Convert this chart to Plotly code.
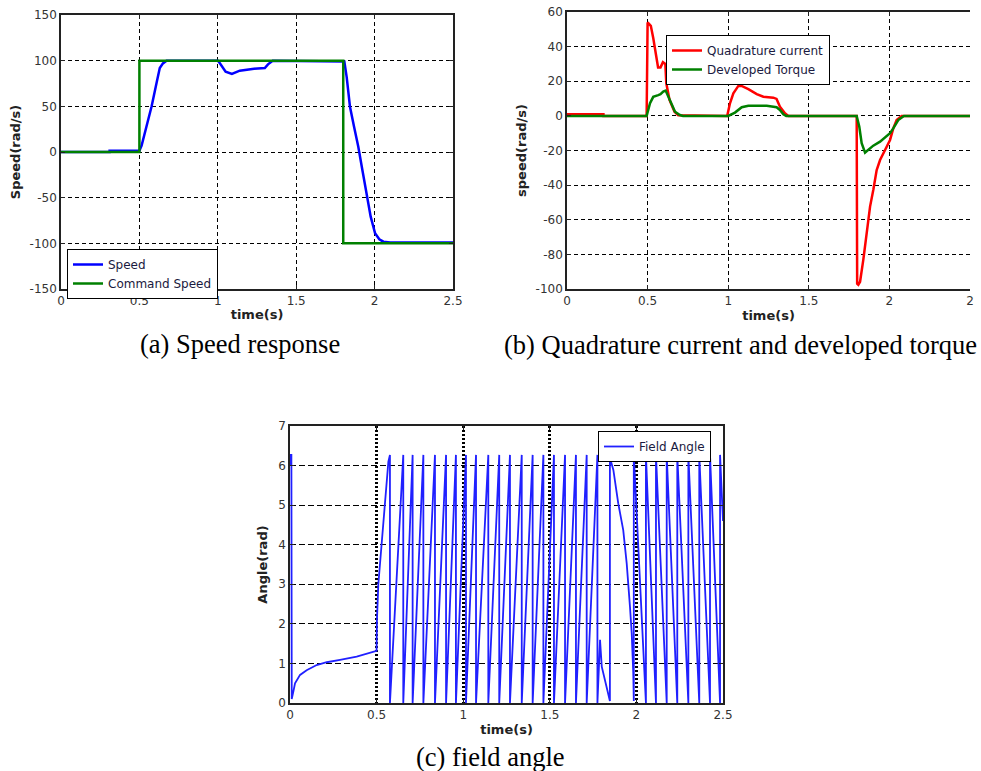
import plotly.graph_objects as go

# ---------------- (a) Speed response ----------------
speed_t = [0, 0.31, 0.31, 0.5, 0.514, 0.546, 0.578, 0.61, 0.63, 0.65, 0.673,
           1.0, 1.01, 1.05, 1.09, 1.14, 1.22, 1.30, 1.32, 1.35,
           1.807, 1.822, 1.843, 1.869, 1.896, 1.924, 1.95, 1.975, 2.003, 2.03, 2.056, 2.1, 2.5]
speed_v = [0, 0, 1.5, 1.5, 7, 28.6, 50, 76, 92, 97, 100,
           100, 98, 88, 85.4, 89, 91, 92, 96, 100,
           99, 82, 49.6, 27.7, 5.8, -21.6, -49, -70.8, -89, -95.6, -98.2, -99, -99]
cmd_t = [0, 0.5, 0.5, 1.8, 1.8, 2.5]
cmd_v = [0, 0, 100, 100, -100, -100]

# ---------------- (b) Quadrature current & torque ----------------
iq_t = [0, 0.226, 0.226, 0.494, 0.5, 0.52, 0.535, 0.555, 0.565, 0.58, 0.595, 0.61,
        0.616, 0.636, 0.667, 0.69, 0.994, 1.011, 1.032, 1.063, 1.083, 1.125, 1.177,
        1.218, 1.28, 1.30, 1.321, 1.352, 1.373, 1.797, 1.80, 1.807, 1.818, 1.838,
        1.859, 1.88, 1.90, 1.921, 1.942, 1.962, 1.983, 2.004, 2.024, 2.045, 2.076, 2.5]
iq_v = [1, 1, 0, 0, 54, 52, 45, 34, 28, 28, 31, 30,
        18.8, 9.2, 2.4, 0.3, 0, 7.3, 13, 17.3, 17.3, 15.4, 12.6,
        11.1, 10.5, 9.8, 5.3, 1.5, 0, 0, -97, -97.6, -95.8, -83.2,
        -65.9, -52.4, -42.8, -31.3, -25.5, -21.6, -17.8, -13.9, -7.2, -2.4, 0, 0]
te_t = [0, 0.494, 0.515, 0.535, 0.566, 0.58, 0.597, 0.612, 0.629, 0.649, 0.67, 0.70, 0.72,
        1.0, 1.042, 1.084, 1.125, 1.239, 1.30, 1.321, 1.342, 1.36,
        1.797, 1.813, 1.828, 1.849, 1.869, 1.90, 1.942, 1.983, 2.004, 2.024, 2.055, 2.09, 2.5]
te_v = [0, 0, 7.3, 11, 12, 12.5, 14, 14.6, 11, 6.3, 2.4, 0.5, 0,
        0, 1.9, 5, 5.9, 5.9, 5, 3.4, 0.9, 0,
        0, -6.2, -15.8, -21.2, -19.7, -17.2, -14.9, -12, -10, -7.2, -2.4, 0, 0]

# ---------------- (c) Field angle ----------------
fa_start_t = [0, 0.003, 0.008, 0.01, 0.02, 0.029, 0.058, 0.096, 0.154, 0.212, 0.289, 0.385, 0.5,
              0.502, 0.51, 0.53, 0.548, 0.568, 0.577]
fa_start_v = [6.0, 6.27, 6.27, 0.1, 0.3, 0.5, 0.71, 0.83, 0.96, 1.03, 1.09, 1.17, 1.32,
              2.1, 3.0, 4.1, 5.1, 6.1, 6.27]
# times where the rising angle wraps from 2*pi back to 0
fa_rise_wraps = [0.577, 0.654, 0.708, 0.770, 0.837, 0.901, 0.958, 1.016, 1.074, 1.145,
                 1.208, 1.270, 1.338, 1.401, 1.463, 1.524, 1.588, 1.651, 1.713, 1.775]
fa_trans_t = [1.79, 1.80, 1.847, 1.847, 1.867, 1.895, 1.924, 1.944, 1.963, 1.973, 1.982, 1.985]
fa_trans_v = [1.6, 0.92, 0.05, 6.2, 5.89, 5.05, 4.37, 3.53, 2.43, 1.76, 0.75, 0.05]
# times where the falling angle wraps from 0 up to 2*pi
fa_fall_wraps = [1.985, 2.055, 2.113, 2.175, 2.236, 2.300, 2.363, 2.425, 2.483]
fa_end_t = [2.5]
fa_end_v = [4.6]
fa_top = 6.27

fa_t = list(fa_start_t)
fa_v = list(fa_start_v)
for i, w in enumerate(fa_rise_wraps):
    if i > 0:
        fa_t.append(w); fa_v.append(fa_top)
    fa_t.append(w); fa_v.append(0.0)
fa_t += fa_trans_t
fa_v += fa_trans_v
for i, w in enumerate(fa_fall_wraps):
    if i > 0:
        fa_t.append(w); fa_v.append(0.0)
    fa_t.append(w); fa_v.append(fa_top)
fa_t += fa_end_t
fa_v += fa_end_v

# tick labels
x_ticks = [0, 0.5, 1, 1.5, 2, 2.5]
x_labels = ["0", "0.5", "1", "1.5", "2", "2.5"]
x_labels_b = ["0", "0.5", "1", "1.5", "2", "2"]
ya_ticks = [-150, -100, -50, 0, 50, 100, 150]
yb_ticks = [-100, -80, -60, -40, -20, 0, 20, 40, 60]
yc_ticks = [0, 1, 2, 3, 4, 5, 6, 7]

# ---------------- figure ----------------
W, H = 981, 771

def xd(left, right):
    return [left / W, right / W]

def yd(top, bottom):
    return [1 - bottom / H, 1 - top / H]

BLUE = "#0000FF"
GREEN = "#008000"
RED = "#FF0000"

fig = go.Figure()
fig.add_trace(go.Scatter(x=speed_t, y=speed_v, mode="lines", name="Speed",
                         line=dict(color=BLUE, width=2.5), xaxis="x", yaxis="y", legend="legend"))
fig.add_trace(go.Scatter(x=cmd_t, y=cmd_v, mode="lines", name="Command Speed",
                         line=dict(color=GREEN, width=2.5), xaxis="x", yaxis="y", legend="legend"))
fig.add_trace(go.Scatter(x=iq_t, y=iq_v, mode="lines", name="Quadrature current",
                         line=dict(color=RED, width=2.5), xaxis="x2", yaxis="y2", legend="legend2"))
fig.add_trace(go.Scatter(x=te_t, y=te_v, mode="lines", name="Developed Torque",
                         line=dict(color=GREEN, width=2.5), xaxis="x2", yaxis="y2", legend="legend2"))
fig.add_trace(go.Scatter(x=fa_t, y=fa_v, mode="lines", name="Field Angle",
                         line=dict(color="#2020FF", width=1.8), xaxis="x3", yaxis="y3", legend="legend3"))

tick_font = dict(family="DejaVu Sans", size=12, color="#333333")
title_font = dict(family="DejaVu Sans", size=13, color="#222222", weight="bold")
AX = "#222222"

def axis(domain, anchor, rng, tickvals, ticktext, title, mirror, griddash, gridwidth, standoff):
    return dict(domain=domain, anchor=anchor, range=rng, tickvals=tickvals, ticktext=ticktext,
                showline=True, linecolor=AX, linewidth=1.5, mirror=mirror,
                ticks="inside", ticklen=4, tickcolor=AX, tickfont=tick_font,
                showgrid=True, gridcolor="#000000", griddash=griddash, gridwidth=gridwidth,
                zeroline=False, automargin=False,
                title=dict(text=title, font=title_font, standoff=standoff))

def labels(vals):
    return [str(v) for v in vals]

legend_common = dict(xanchor="left", yanchor="top", bgcolor="white",
                     bordercolor="#000000", borderwidth=1, tracegroupgap=0,
                     font=dict(family="DejaVu Sans", size=12, color="#1a1a40"))

fig.update_layout(
    width=W, height=H,
    margin=dict(l=0, r=0, t=0, b=0),
    paper_bgcolor="white", plot_bgcolor="white",
    xaxis=axis(xd(61, 453), "y", [0, 2.5], x_ticks, x_labels,
               "time(s)", "ticks", "4px,3px", 1, 3),
    yaxis=axis(yd(15, 289), "x", [-150, 150], ya_ticks, labels(ya_ticks),
               "Speed(rad/s)", "ticks", "4px,3px", 1, 6),
    xaxis2=axis(xd(567, 970), "y2", [0, 2.5], x_ticks, x_labels_b,
                "time(s)", "ticks", "4px,3px", 1, 4),
    yaxis2=axis(yd(12, 289), "x2", [-100, 60], yb_ticks, labels(yb_ticks),
                "speed(rad/s)", False, "4px,3px", 1, 6),
    xaxis3=axis(xd(290, 723), "y3", [0, 2.5], x_ticks, x_labels,
                "time(s)", "ticks", "2px,2px", 2.5, 4),
    yaxis3=axis(yd(426, 703), "x3", [0, 7], yc_ticks, labels(yc_ticks),
                "Angle(rad)", "ticks", "6px,3px", 1.3, 8),
    legend=dict(x=67 / W, y=1 - 249 / H, **legend_common),
    legend2=dict(x=666 / W, y=1 - 35 / H, **legend_common),
    legend3=dict(x=598 / W, y=1 - 431 / H, **legend_common),
    showlegend=True,
)

cap_font = dict(family="Liberation Serif", size=26.5, color="#000000")
for text, cx, cy in [("(a) Speed response", 240, 344),
                     ("(b) Quadrature current and developed torque", 740, 345),
                     ("(c) field angle", 490, 757)]:
    fig.add_annotation(text=text, x=cx / W, y=1 - cy / H, xref="paper", yref="paper",
                       xanchor="center", yanchor="middle", showarrow=False, font=cap_font)

fig.write_html("out.html", config={"displayModeBar": False},
               post_script="document.body.style.margin='0px';document.body.style.overflow='hidden';")
